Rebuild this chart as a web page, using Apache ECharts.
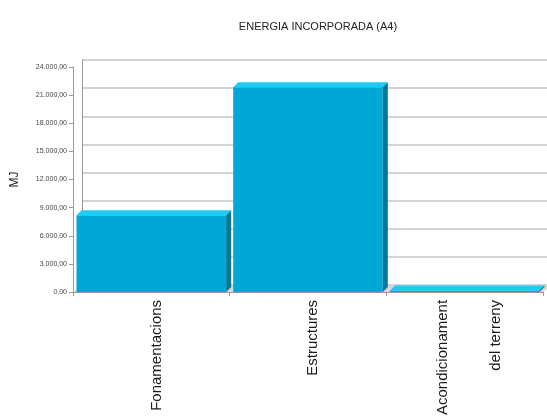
<!DOCTYPE html>
<html>
<head>
<meta charset="utf-8">
<script src="https://cdn.jsdelivr.net/npm/echarts@6/dist/echarts.min.js"></script>
<style>
  html, body { margin: 0; padding: 0; background: #fff; }
  #chart { width: 547px; height: 418px; }
</style>
</head>
<body>
<div id="chart"></div>
<script>
// data
const categories = ['Fonamentacions', 'Estructures', 'Acondicionament\ndel terreny']
const energia = [8200, 21850, 150]
const yTicks = { min: 0, max: 24000, step: 3000 }

// 3d look (pixels)
const wallDx = 9, wallDy = 7, barD = 5

function fmt(v) {
  const s = String(Math.round(v)).replace(/\B(?=(\d{3})+(?!\d))/g, '.')
  return s + ',00'
}

const chart = echarts.init(document.getElementById('chart'), null, { renderer: 'canvas' })

const option = {
  animation: false,
  backgroundColor: '#fff',
  title: {
    text: 'ENERGIA INCORPORADA (A4)',
    left: 313, top: 16, textAlign: 'center',
    textStyle: { fontFamily: 'Liberation Sans', fontSize: 11, fontWeight: 'normal', color: '#222' }
  },
  grid: [
    // back wall
    { left: 73 + wallDx, right: 4 - wallDx, top: 67 - wallDy, bottom: 126 + wallDy },
    // front
    { left: 73, right: 4, top: 67, bottom: 126 },
    // category labels sit a little right of the band centres
    { left: 79, right: -2, top: 67, bottom: 126 }
  ],
  xAxis: [
    {
      gridIndex: 0, type: 'category', data: categories,
      axisLine: { show: false }, axisTick: { show: false }, axisLabel: { show: false }
    },
    {
      gridIndex: 1, type: 'category', data: categories,
      axisLine: { show: true, lineStyle: { color: '#9a9a9a', width: 1 } },
      axisTick: { show: true, length: 4, lineStyle: { color: '#9a9a9a' } },
      axisLabel: { show: false }
    },
    {
      gridIndex: 2, type: 'category', data: categories,
      axisLine: { show: false }, axisTick: { show: false },
      axisLabel: {
        rotate: 90, interval: 0, margin: 8,
        fontFamily: 'Liberation Sans', fontSize: 15, color: '#1a1a1a',
        lineHeight: 53
      }
    }
  ],
  yAxis: [
    {
      gridIndex: 0, type: 'value', min: yTicks.min, max: yTicks.max, interval: yTicks.step,
      axisLine: { show: true, lineStyle: { color: '#9a9a9a' } },
      axisTick: { show: false }, axisLabel: { show: false },
      splitLine: { show: true, lineStyle: { color: '#c4c4c4', width: 1.5 } }
    },
    {
      gridIndex: 1, type: 'value', min: yTicks.min, max: yTicks.max, interval: yTicks.step,
      name: 'MJ', nameLocation: 'middle', nameGap: 52, nameRotate: 90,
      nameTextStyle: { fontFamily: 'Liberation Sans', fontSize: 12, color: '#222' },
      axisLine: { show: true, lineStyle: { color: '#9a9a9a' } },
      axisTick: { show: true, length: 4, lineStyle: { color: '#9a9a9a' } },
      splitLine: { show: false },
      axisLabel: {
        formatter: fmt, margin: 6,
        fontFamily: 'Liberation Sans', fontSize: 7, color: '#444'
      }
    },
    {
      gridIndex: 2, type: 'value', min: yTicks.min, max: yTicks.max, show: false
    }
  ],
  series: [
    {
      type: 'custom',
      xAxisIndex: 1, yAxisIndex: 1,
      data: energia.map((v, i) => [i, v]),
      renderItem: function (params, api) {
        const i = api.value(0)
        const v = api.value(1)
        const base = api.coord([i, 0])
        const top = api.coord([i, v])
        const band = api.size([1, 0])[0]
        const w = band * 0.955
        const l = base[0] - w / 2
        const r = l + w
        const y0 = base[1], y1 = top[1]
        const bl = base[0] - band / 2, br = base[0] + band / 2
        return {
          type: 'group',
          children: [
            { // floor strip
              type: 'polygon',
              shape: { points: [[bl, y0], [bl + wallDx, y0 - wallDy], [br + wallDx, y0 - wallDy], [br, y0]] },
              style: { fill: '#d6d6d6' }
            },
            { // front face
              type: 'rect',
              shape: { x: l, y: y1, width: w, height: y0 - y1 },
              style: { fill: '#00a9d5' }
            },
            { // top face
              type: 'polygon',
              shape: { points: [[l, y1], [l + barD, y1 - barD], [r + barD, y1 - barD], [r, y1]] },
              style: { fill: '#19cdf7' }
            },
            { // side face
              type: 'polygon',
              shape: { points: [[r, y1], [r + barD, y1 - barD], [r + barD, y0 - barD], [r, y0]] },
              style: { fill: '#00789a' }
            }
          ]
        }
      }
    }
  ]
}

chart.setOption(option)
</script>
</body>
</html>
